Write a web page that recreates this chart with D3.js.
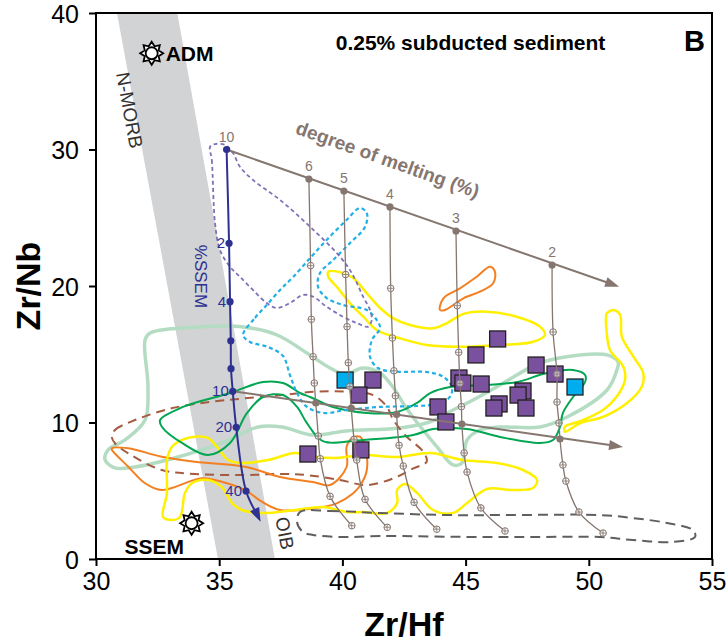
<!DOCTYPE html>
<html lang="en">
<head>
<meta charset="UTF-8">
<title>Zr/Nb vs Zr/Hf</title>
<script src="https://cdn.jsdelivr.net/npm/d3@7"></script>
<style>
  body { margin: 0; background: #fff; }
  text { font-family: "Liberation Sans", Arial, sans-serif; }
  .narrow { font-family: "Liberation Sans Narrow", "Arial Narrow", "Liberation Sans", sans-serif; }
</style>
</head>
<body>
<script>
// axis ticks
var xTicks = [30, 35, 40, 45, 50, 55];
var yTicks = [0, 10, 20, 30, 40];

// N-MORB / OIB grey band (Zr/Hf at Zr/Nb = 40 and 0)
var bandX = [30.85, 33.3, 37.26, 34.95];
var bandY = [40, 40, 0, 0];

// end members
var admPoint = [32.26, 37.05];
var ssemPoint = [33.88, 2.62];

// mixing line with sediment (%SSEM)
var ssemX = [35.30, 35.40, 35.44, 35.47, 35.48, 35.55, 35.69, 36.09, 36.68];
var ssemY = [30.0, 23.13, 18.85, 15.99, 13.94, 12.29, 9.65, 4.98, 2.73];
var ssemLabels = ['', '2', '4', '', '', '10', '20', '40', ''];

// melting curves, degree of melting (%)
var meltLabels = ['6', '5', '4', '3', '2'];
var melt6 = [[38.64, 27.84], [38.71, 21.49], [38.74, 17.56], [38.81, 14.82], [38.86, 12.89], [38.92, 11.43], [39.02, 9.01], [39.10, 7.35], [39.50, 4.59], [40.38, 2.44]];
var melt5 = [[40.06, 26.96], [40.13, 20.84], [40.19, 17.02], [40.24, 14.38], [40.30, 12.64], [40.36, 11.06], [40.47, 8.77], [40.58, 7.25], [40.92, 4.37], [41.82, 2.32]];
var melt4 = [[41.93, 25.79], [41.96, 19.83], [42.03, 16.19], [42.09, 13.79], [42.15, 11.96], [42.20, 10.59], [42.30, 8.33], [42.47, 6.81], [42.91, 4.15], [43.83, 2.18]];
var melt3 = [[44.61, 24.03], [44.66, 18.56], [44.72, 15.14], [44.77, 12.87], [44.83, 11.16], [44.85, 9.89], [44.94, 7.77], [45.06, 6.37], [45.62, 3.74], [46.60, 2.05]];
var melt2 = [[48.51, 21.54], [48.55, 16.63], [48.71, 13.55], [48.71, 11.50], [48.79, 9.96], [48.83, 8.79], [48.95, 6.89], [49.07, 5.71], [49.60, 3.44], [50.58, 1.90]];
var meltArrowTop = [51.23, 19.95];
var meltArrowLow = [51.39, 8.21];

// samples
var purpleX = [46.30, 45.42, 47.86, 48.63, 44.73, 44.89, 45.63, 47.33, 47.13, 46.36, 46.15, 47.45, 43.88, 44.20, 41.24, 40.67, 38.60, 40.75];
var purpleY = [16.12, 14.95, 14.21, 13.55, 13.26, 12.89, 12.82, 12.31, 12.01, 11.36, 11.06, 11.06, 11.14, 10.04, 13.11, 12.01, 7.69, 7.99];
var cyanX = [49.44, 40.11];
var cyanY = [12.60, 13.11];

// field outlines
var lightGreen = [[32.19, 16.56], [34.22, 17.0], [35.97, 17.0], [37.35, 16.41], [38.56, 15.09], [39.5, 13.99], [40.11, 13.55], [40.84, 13.99], [41.53, 13.63], [42.05, 12.6], [42.46, 11.43], [42.86, 10.4], [43.84, 8.21], [44.49, 6.89], [44.85, 7.03], [45.06, 8.72], [45.58, 9.45], [46.4, 9.67], [48.02, 9.67], [49.12, 10.4], [50.74, 12.38], [51.14, 13.85], [51.19, 14.43], [50.74, 14.95], [49.64, 14.95], [48.02, 14.36], [46.4, 12.75], [45.3, 11.65], [44.25, 10.7], [43.56, 10.04], [42.34, 9.6], [40.15, 9.38], [38.81, 9.08], [37.55, 9.67], [36.57, 9.67], [35.11, 8.5], [33.33, 7.47], [31.58, 6.74], [30.77, 6.67], [30.37, 7.25], [30.49, 7.99], [31.18, 8.72], [31.99, 10.18], [32.11, 12.6], [31.99, 16.04]];
var darkGreen = [[32.6, 10.18], [33.53, 11.14], [35.44, 12.16], [36.78, 12.97], [37.59, 12.89], [38.28, 12.16], [38.69, 11.87], [39.62, 11.14], [41.0, 10.7], [42.22, 10.77], [43.03, 11.43], [43.56, 12.16], [44.37, 12.6], [45.87, 12.75], [47.09, 12.97], [48.3, 13.63], [49.36, 13.85], [49.85, 13.48], [49.85, 12.97], [49.36, 11.87], [48.95, 10.7], [48.83, 9.67], [48.55, 8.72], [48.02, 8.5], [46.4, 8.94], [45.06, 9.52], [43.68, 9.52], [42.87, 9.08], [40.84, 8.72], [39.21, 8.64], [38.56, 9.96], [38.16, 11.14], [37.59, 12.01], [36.78, 11.87], [36.13, 10.7], [35.44, 8.5], [34.55, 7.62], [33.49, 8.5], [32.68, 9.67]];
var brownDash = [[30.64, 8.96], [30.77, 9.45], [31.58, 10.18], [33.07, 11.04], [34.7, 11.52], [36.05, 11.77], [37.54, 12.01], [38.89, 12.26], [40.17, 12.26], [41.25, 12.01], [41.8, 11.16], [42.07, 10.18], [42.61, 8.96], [43.28, 7.86], [43.42, 7.13], [42.88, 6.64], [42.07, 5.91], [40.99, 5.42], [39.9, 5.79], [38.55, 6.15], [37.47, 6.23], [36.05, 6.15], [34.02, 6.23], [32.67, 6.52], [31.31, 7.74], [30.77, 8.48]];
var orangeLow = [[30.64, 8.11], [31.31, 8.11], [32.67, 7.49], [34.02, 7.13], [36.05, 6.76], [37.47, 6.01], [38.81, 5.64], [39.5, 5.42], [40.17, 6.74], [40.17, 8.21], [40.38, 8.84], [40.71, 8.96], [40.92, 8.23], [40.99, 6.52], [40.78, 5.55], [40.44, 4.81], [39.77, 4.08], [38.82, 3.71], [37.47, 3.59], [36.73, 4.2], [36.05, 5.05], [35.1, 5.66], [34.29, 5.91], [32.67, 5.05], [31.99, 5.55], [31.31, 6.76], [30.65, 7.99]];
var orangeHigh = [[43.96, 18.24], [44.1, 19.1], [44.77, 19.83], [45.45, 20.68], [45.99, 21.41], [46.19, 21.05], [46.12, 20.2], [45.58, 19.58], [44.91, 19.1], [44.5, 18.61], [44.16, 18.24]];
var yellowMid = [[39.43, 21.05], [40.04, 20.93], [40.45, 20.56], [40.99, 19.47], [41.53, 18.39], [42.07, 17.63], [42.74, 17.14], [43.69, 16.9], [44.23, 17.27], [44.91, 17.95], [45.86, 18.12], [47.07, 17.75], [48.02, 17.02], [48.22, 16.41], [47.75, 15.92], [46.4, 15.68], [44.77, 15.55], [43.42, 15.68], [42.34, 16.17], [41.39, 16.78], [40.85, 17.75], [40.31, 18.73], [39.77, 19.95], [39.43, 20.68]];
var yellowRight = [[50.73, 18.0], [51.0, 18.24], [51.27, 17.88], [51.34, 16.29], [51.81, 14.82], [52.21, 13.6], [52.15, 12.62], [51.54, 11.41], [50.59, 10.42], [49.64, 9.94], [49.03, 9.33], [49.03, 9.69], [49.64, 10.09], [50.58, 10.92], [51.13, 11.89], [51.47, 13.11], [51.4, 14.09], [50.86, 15.31], [50.73, 16.53], [50.7, 17.75]];
var yellowLow = [[33.49, 8.72], [34.02, 8.96], [34.55, 8.86], [34.95, 8.13], [35.36, 7.25], [35.93, 7.03], [36.98, 7.25], [38.08, 7.77], [38.97, 7.47], [39.78, 7.4], [40.84, 7.62], [42.22, 7.47], [43.56, 7.77], [44.89, 7.25], [46.27, 7.03], [47.33, 6.52], [47.9, 5.79], [47.74, 5.2], [46.92, 5.05], [45.87, 5.13], [45.06, 4.1], [44.49, 3.37], [43.68, 3.59], [43.03, 4.84], [42.54, 5.49], [42.22, 5.05], [42.22, 4.1], [41.81, 3.37], [40.84, 3.44], [40.19, 3.44], [39.21, 3.81], [38.08, 3.59], [36.74, 3.37], [35.93, 3.59], [35.52, 4.1], [35.11, 5.27], [34.55, 5.79], [33.9, 5.57], [33.61, 4.84], [33.41, 3.08], [33.08, 2.86], [32.72, 3.08], [32.88, 4.84], [32.88, 7.25], [33.08, 8.21]];
var cyanDot = [[35.97, 16.41], [36.45, 17.66], [36.93, 18.61], [37.47, 19.71], [38.0, 20.66], [38.69, 22.05], [39.36, 23.37], [40.17, 24.84], [40.71, 25.71], [40.99, 25.35], [40.92, 24.34], [40.31, 23.15], [39.62, 21.9], [39.09, 20.95], [39.01, 19.95], [39.36, 19.12], [40.02, 18.61], [40.99, 18.24], [41.39, 17.51], [41.53, 16.92], [41.2, 16.04], [41.12, 14.82], [41.44, 13.99], [42.2, 13.72], [43.42, 13.7], [44.08, 13.36], [44.44, 12.62], [44.37, 11.89], [43.83, 11.36], [43.02, 11.21], [41.53, 11.14], [40.17, 10.92], [39.21, 10.7], [38.55, 11.16], [38.16, 12.16], [37.87, 13.48], [37.59, 14.87], [36.98, 15.53], [36.25, 15.9]];
var purpleDot = [[34.63, 30.2], [34.7, 29.23], [34.83, 24.62], [35.03, 22.64], [35.44, 21.41], [35.84, 20.68], [36.37, 19.71], [36.93, 18.75], [37.33, 18.39], [37.87, 18.75], [38.4, 19.34], [38.81, 19.22], [39.36, 18.48], [40.02, 17.75], [40.58, 17.29], [41.04, 17.02], [41.19, 17.51], [41.12, 18.24], [40.84, 19.22], [40.38, 20.95], [39.9, 22.15], [38.69, 24.34], [37.47, 26.3], [36.37, 27.77], [35.84, 28.74], [35.56, 29.74], [35.24, 30.33], [34.83, 30.4]];
var grayDash = [[38.28, 3.44], [39.5, 3.52], [41.53, 3.37], [44.25, 3.22], [46.92, 3.22], [50.45, 3.22], [51.79, 3.0], [53.17, 2.64], [54.23, 2.12], [54.31, 1.61], [53.42, 1.25], [51.79, 1.39], [50.45, 1.61], [47.74, 1.61], [45.58, 1.61], [41.53, 1.68], [40.02, 1.61], [38.81, 1.76], [38.4, 1.98], [38.16, 2.71]];

var W = 728, H = 642;
var margin = { top: 13, right: 16, bottom: 83, left: 96 };
var w = W - margin.left - margin.right;
var h = H - margin.top - margin.bottom;

var x = d3.scaleLinear().domain([30, 55]).range([0, w]);
var y = d3.scaleLinear().domain([0, 40]).range([h, 0]);

var svg = d3.select('body').append('svg').attr('width', W).attr('height', H);
svg.append('defs').append('clipPath').attr('id', 'plot')
  .append('rect').attr('width', w).attr('height', h);

var g = svg.append('g').attr('transform', 'translate(' + margin.left + ',' + margin.top + ')');
var plot = g.append('g').attr('clip-path', 'url(#plot)');

var brownC = '#85766f', blueC = '#2e3192';
var P = function (p) { return [x(p[0]), y(p[1])] };

// grey band
plot.append('path')
  .attr('d', d3.line()(bandX.map(function (v, i) { return [x(v), y(bandY[i])] })) + 'Z')
  .attr('fill', '#d1d3d4');

// field outlines
var fields = [
  { pts: lightGreen, stroke: '#b4dcc2', width: 3.5 },
  { pts: brownDash, stroke: '#a65b40', width: 2, dash: '9,6' },
  { pts: orangeLow, stroke: '#f47f20', width: 2 },
  { pts: orangeHigh, stroke: '#f47f20', width: 2 },
  { pts: yellowMid, stroke: '#fff000', width: 2.5 },
  { pts: yellowRight, stroke: '#fff000', width: 2.5 },
  { pts: yellowLow, stroke: '#fff000', width: 2.5 },
  { pts: darkGreen, stroke: '#00a651', width: 2 },
  { pts: cyanDot, stroke: '#1fb0e6', width: 2.2, dash: '4,3' },
  { pts: purpleDot, stroke: '#7f71b8', width: 1.8, dash: '4,3' },
  { pts: grayDash, stroke: '#5f5f5f', width: 2, dash: '10,6' }
];
var closedLine = d3.line().curve(d3.curveCatmullRomClosed.alpha(0.5));
plot.selectAll('path.field').data(fields).enter().append('path')
  .attr('class', 'field')
  .attr('d', function (d) { return closedLine(d.pts.map(P)) })
  .attr('fill', 'none')
  .attr('stroke', function (d) { return d.stroke })
  .attr('stroke-width', function (d) { return d.width })
  .attr('stroke-dasharray', function (d) { return d.dash || null })
  .attr('stroke-linejoin', 'round');

// band labels
plot.append('text').text('N-MORB')
  .attr('transform', 'translate(' + (x(31.1)) + ',' + (y(32.8)) + ') rotate(79.5)')
  .attr('text-anchor', 'middle').attr('font-size', 19).attr('fill', '#333');
plot.append('text').text('OIB')
  .attr('transform', 'translate(' + (x(37.4)) + ',' + (y(1.8)) + ') rotate(79.5)')
  .attr('text-anchor', 'middle').attr('font-size', 19).attr('fill', '#333');

// samples
var sq = 16;
g.selectAll('rect.purple').data(purpleX).enter().append('rect')
  .attr('class', 'purple')
  .attr('x', function (d) { return x(d) - sq / 2 })
  .attr('y', function (d, i) { return y(purpleY[i]) - sq / 2 })
  .attr('width', sq).attr('height', sq)
  .attr('fill', '#7a519f').attr('stroke', '#231f20').attr('stroke-width', 1.3);
g.selectAll('rect.cyan').data(cyanX).enter().append('rect')
  .attr('class', 'cyan')
  .attr('x', function (d) { return x(d) - sq / 2 })
  .attr('y', function (d, i) { return y(cyanY[i]) - sq / 2 })
  .attr('width', sq).attr('height', sq)
  .attr('fill', '#00aeef').attr('stroke', '#231f20').attr('stroke-width', 1.3);

function arrowHead(sel, a, b, len, wid, color) {
  var dx = b[0] - a[0], dy = b[1] - a[1], L = Math.sqrt(dx * dx + dy * dy);
  var ux = dx / L, uy = dy / L;
  var bx = b[0] - ux * len, by = b[1] - uy * len;
  sel.append('path')
    .attr('d', 'M' + b[0] + ',' + b[1] + 'L' + (bx - uy * wid / 2) + ',' + (by + ux * wid / 2) +
      'L' + (bx + uy * wid / 2) + ',' + (by - ux * wid / 2) + 'Z')
    .attr('fill', color);
}

// melting curves
var meltCurves = [melt6, melt5, melt4, melt3, melt2];
var curveLine = d3.line().curve(d3.curveCatmullRom.alpha(0.5));
meltCurves.forEach(function (c) {
  g.append('path').attr('d', curveLine(c.map(P)))
    .attr('fill', 'none').attr('stroke', brownC).attr('stroke-width', 1.3);
});

// degree-of-melting lines
var topPt = [ssemX[0], ssemY[0]], lowPt = [ssemX[5], ssemY[5]];
[[topPt, meltArrowTop], [lowPt, meltArrowLow]].forEach(function (l) {
  var a = P(l[0]), b = P(l[1]);
  var dx = b[0] - a[0], dy = b[1] - a[1], L = Math.sqrt(dx * dx + dy * dy);
  g.append('line').attr('x1', a[0]).attr('y1', a[1])
    .attr('x2', b[0] - dx / L * 8).attr('y2', b[1] - dy / L * 8)
    .attr('stroke', brownC).attr('stroke-width', 2);
  arrowHead(g, a, b, 14, 10, brownC);
});

// markers on melting curves
meltCurves.forEach(function (c, ci) {
  c.forEach(function (p, i) {
    var q = P(p);
    if (i === 0 || i === 5) {
      g.append('circle').attr('cx', q[0]).attr('cy', q[1]).attr('r', 3.6).attr('fill', brownC);
    } else {
      g.append('circle').attr('cx', q[0]).attr('cy', q[1]).attr('r', 3.3)
        .attr('fill', '#fff').attr('fill-opacity', 0.6).attr('stroke', brownC).attr('stroke-width', 1);
      g.append('path').attr('d', 'M' + (q[0] - 3.3) + ',' + q[1] + 'h6.6M' + q[0] + ',' + (q[1] - 3.3) + 'v6.6')
        .attr('stroke', brownC).attr('stroke-width', 0.8);
    }
  });
  var t = P(c[0]);
  g.append('text').text(meltLabels[ci]).attr('x', t[0]).attr('y', t[1] - 8)
    .attr('text-anchor', 'middle').attr('font-size', 14).attr('fill', brownC);
});
g.append('text').text('10').attr('x', x(topPt[0])).attr('y', y(topPt[1]) - 8)
  .attr('text-anchor', 'middle').attr('font-size', 14).attr('fill', brownC);

g.append('text').text('degree of melting (%)')
  .attr('transform', 'translate(' + x(41.75) + ',' + y(28.8) + ') rotate(19.7)')
  .attr('text-anchor', 'middle').attr('font-size', 19).attr('font-weight', 'bold').attr('fill', brownC);

// %SSEM mixing line
var ssemPts = ssemX.map(function (v, i) { return [x(v), y(ssemY[i])] });
var n = ssemPts.length;
var tip = ssemPts[n - 1], prev = ssemPts[n - 2];
var ddx = tip[0] - prev[0], ddy = tip[1] - prev[1], dl = Math.sqrt(ddx * ddx + ddy * ddy);
var linePts = ssemPts.slice(0, n - 1).concat([[tip[0] - ddx / dl * 8, tip[1] - ddy / dl * 8]]);
g.append('path').attr('d', curveLine(linePts))
  .attr('fill', 'none').attr('stroke', blueC).attr('stroke-width', 2);
arrowHead(g, prev, tip, 14, 10, blueC);
ssemPts.slice(0, n - 1).forEach(function (p, i) {
  g.append('circle').attr('cx', p[0]).attr('cy', p[1]).attr('r', 3.6).attr('fill', blueC);
  if (ssemLabels[i]) {
    g.append('text').text(ssemLabels[i]).attr('x', p[0] - 4).attr('y', p[1] + 5)
      .attr('text-anchor', 'end').attr('font-size', 15).attr('fill', blueC);
  }
});
g.append('text').text('%SSEM')
  .attr('transform', 'translate(' + x(34.0) + ',' + y(20.7) + ') rotate(90)')
  .attr('text-anchor', 'middle').attr('font-size', 17).attr('fill', blueC);

// end-member stars
function starPath(cx, cy, ro, ri, k) {
  var pts = [];
  for (var i = 0; i < 2 * k; i++) {
    var r = i % 2 === 0 ? ro : ri, a = Math.PI * i / k - Math.PI / 2;
    pts.push([cx + r * Math.cos(a), cy + r * Math.sin(a)]);
  }
  return d3.line()(pts) + 'Z';
}
[admPoint, ssemPoint].forEach(function (p) {
  var q = P(p);
  g.append('path').attr('d', starPath(q[0], q[1], 11.5, 7.5, 8))
    .attr('fill', '#fff').attr('stroke', '#000').attr('stroke-width', 1.8);
  g.append('circle').attr('cx', q[0]).attr('cy', q[1]).attr('r', 6)
    .attr('fill', '#fff').attr('stroke', '#000').attr('stroke-width', 1.8);
});
g.append('text').text('ADM').attr('x', x(admPoint[0]) + 14).attr('y', y(admPoint[1]) + 8)
  .attr('font-size', 21).attr('font-weight', 'bold');
g.append('text').text('SSEM').attr('x', x(ssemPoint[0]) - 67).attr('y', y(ssemPoint[1]) + 31)
  .attr('font-size', 21).attr('font-weight', 'bold');

// titles inside the frame
g.append('text').text('0.25% subducted sediment').attr('x', x(45.2)).attr('y', 37)
  .attr('text-anchor', 'middle').attr('font-size', 21).attr('font-weight', 'bold');
g.append('text').text('B').attr('x', w - 7).attr('y', 38)
  .attr('text-anchor', 'end').attr('font-size', 29).attr('font-weight', 'bold');

// frame and axes
g.append('rect').attr('width', w).attr('height', h)
  .attr('fill', 'none').attr('stroke', '#000').attr('stroke-width', 2);

var xAxis = g.append('g').attr('transform', 'translate(0,' + h + ')')
  .call(d3.axisBottom(x).tickValues(xTicks).tickSize(7).tickPadding(6));
var yAxis = g.append('g')
  .call(d3.axisLeft(y).tickValues(yTicks).tickSize(7).tickPadding(10));
[xAxis, yAxis].forEach(function (a) {
  a.select('.domain').remove();
  a.selectAll('line').attr('stroke', '#000').attr('stroke-width', 2);
  a.selectAll('text').attr('class', 'narrow').attr('font-size', 25).attr('fill', '#000');
});
yAxis.selectAll('text').attr('dy', '0.36em');

svg.append('text').text('Zr/Hf').attr('class', 'narrow')
  .attr('x', margin.left + w / 2).attr('y', H - 6)
  .attr('text-anchor', 'middle').attr('font-size', 34).attr('font-weight', 'bold');
svg.append('text').text('Zr/Nb').attr('class', 'narrow')
  .attr('transform', 'translate(40,' + (margin.top + h / 2) + ') rotate(-90)')
  .attr('text-anchor', 'middle').attr('font-size', 34).attr('font-weight', 'bold');
</script>
</body>
</html>
